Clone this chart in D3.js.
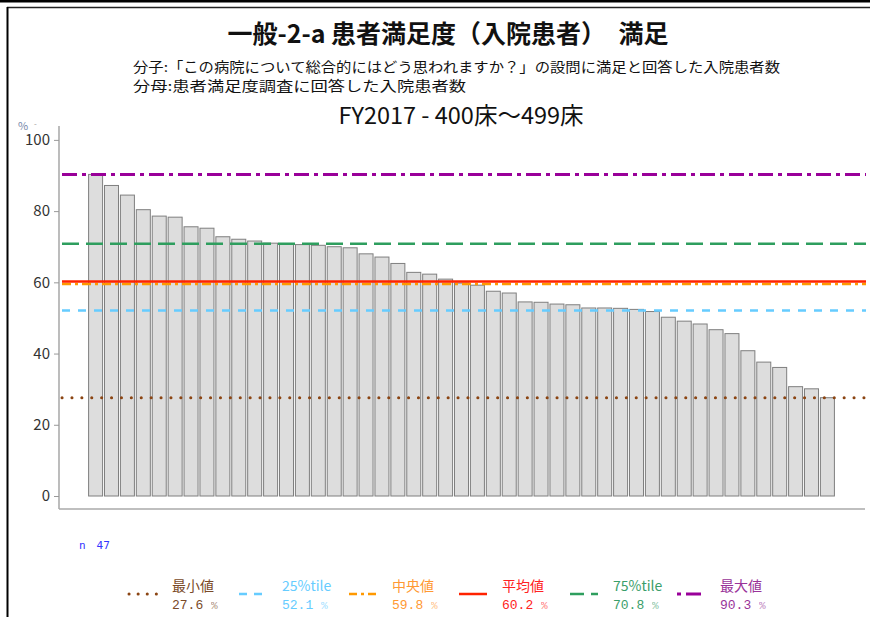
<!DOCTYPE html>
<html><head><meta charset="utf-8">
<script src="https://cdn.jsdelivr.net/npm/d3@7"></script>
<style>
html,body{margin:0;padding:0;background:#fff;}
svg{display:block;}
</style></head>
<body>
<svg id="chart" width="870" height="617"></svg>
<script>
const titleText = "一般-2-a 患者満足度（入院患者）　満足";
const subLines = ["分子:「この病院について総合的にはどう思われますか？」の設問に満足と回答した入院患者数", "分母:患者満足度調査に回答した入院患者数"];
const subTitle = "FY2017 - 400床～499床";
const values = [90.3, 87.2, 84.5, 80.4, 78.6, 78.3, 75.6, 75.2, 72.8, 72.1, 71.6, 71.0, 70.7, 70.6, 70.4, 70.0, 69.7, 68.0, 67.1, 65.3, 62.8, 62.3, 60.9, 59.8, 59.2, 57.5, 57.0, 54.5, 54.4, 53.9, 53.7, 52.8, 52.8, 52.7, 52.4, 51.8, 50.2, 49.1, 48.3, 46.7, 45.6, 40.8, 37.6, 36.1, 30.7, 30.1, 27.6];
const categories = values.map((v, i) => "H" + (i + 1));
const yTicks = [0, 20, 40, 60, 80, 100];
const statNames = ["最小値", "25%tile", "中央値", "平均値", "75%tile", "最大値"];
const statValues = [27.6, 52.1, 59.8, 60.2, 70.8, 90.3];
const statColors = ["#8B4513", "#66CCFF", "#FF9900", "#FF2200", "#2E9E5E", "#990099"];
const statTextColors = ["#7A4A28", "#66CCFF", "#FF9933", "#FF2222", "#3A9E6A", "#993399"];
const statDash = ["0.1,9.8", "8,8", "9,4,3,4", null, "17,7", "15,5,4,5"];
const statCap = ["round", "butt", "butt", "butt", "butt", "butt"];
const statWidth = [3, 2.5, 2.5, 2.5, 2.5, 3];
const nLabel = "n　47";

const svg = d3.select("#chart");
const font = "'Noto Sans CJK JP', 'Noto Sans', sans-serif";

// frame
svg.append("rect").attr("x", 0).attr("y", 0).attr("width", 870).attr("height", 2.5).attr("fill", "#000");
svg.append("line").attr("x1", 7).attr("x2", 870).attr("y1", 7.5).attr("y2", 7.5).attr("stroke", "#222").attr("stroke-width", 1.5);
svg.append("line").attr("x1", 7.5).attr("x2", 7.5).attr("y1", 7).attr("y2", 617).attr("stroke", "#000").attr("stroke-width", 2);

// titles
svg.append("text").attr("x", 448).attr("y", 43).attr("text-anchor", "middle")
  .attr("font-family", font).attr("font-weight", "bold").attr("font-size", 25).attr("fill", "#111").text(titleText);
const subW = [647, 333];
subLines.forEach((t, i) => {
  svg.append("text").attr("x", 133).attr("y", 71.5 + i * 19).attr("font-family", font)
    .attr("font-size", 13.5).attr("textLength", subW[i]).attr("lengthAdjust", "spacingAndGlyphs")
    .attr("fill", "#111").text(t);
});
svg.append("text").attr("x", 461).attr("y", 124).attr("text-anchor", "middle")
  .attr("font-family", font).attr("font-size", 23.5).attr("fill", "#111").text(subTitle);

// scales
const x = d3.scaleBand().domain(categories).range([59, 864]).paddingInner(0.12).paddingOuter(1.86);
const y = d3.scaleLinear().domain([-3.65, 103.9]).range([509, 126]);

// y axis
const yAxis = svg.append("g").attr("transform", "translate(59,0)")
  .call(d3.axisLeft(y).tickValues(yTicks).tickSize(5).tickPadding(4).tickFormat(d3.format("d")));
yAxis.select(".domain").attr("stroke", "#999").attr("stroke-width", 1.3).attr("d", "M0," + y.range()[1] + "V" + y.range()[0]);
yAxis.selectAll(".tick line").attr("stroke", "#999");
yAxis.selectAll(".tick text").attr("font-family", font).attr("font-size", 15).attr("fill", "#333");

// x axis line
svg.append("line").attr("x1", 59).attr("x2", 865).attr("y1", 509).attr("y2", 509).attr("stroke", "#aaa").attr("stroke-width", 1.5);

// % label
svg.append("text").attr("x", 18).attr("y", 130).attr("font-family", font).attr("font-size", 11).attr("fill", "#7788aa").text("%");
svg.append("text").attr("x", 34).attr("y", 127).attr("font-family", font).attr("font-size", 8).attr("fill", "#999").text("-");

// bars
svg.append("g").selectAll("rect").data(values).join("rect")
  .attr("x", (d, i) => x(categories[i]))
  .attr("y", d => y(d))
  .attr("width", x.bandwidth())
  .attr("height", d => y(0) - y(d))
  .attr("fill", "#DDDDDD").attr("stroke", "#7f7f7f").attr("stroke-width", 1);

// reference lines
const order = [0, 1, 2, 3, 4, 5];
svg.append("g").selectAll("line").data(order).join("line")
  .attr("x1", 62).attr("x2", 866)
  .attr("y1", i => y(statValues[i]) + (i === 2 ? 1 : 0))
  .attr("y2", i => y(statValues[i]) + (i === 2 ? 1 : 0))
  .attr("stroke", i => statColors[i])
  .attr("stroke-width", i => statWidth[i])
  .attr("stroke-linecap", i => statCap[i])
  .attr("stroke-dasharray", i => statDash[i]);

// n label
svg.append("text").attr("x", 79).attr("y", 549).attr("font-family", "'DejaVu Sans Mono', monospace")
  .attr("font-size", 11).attr("fill", "#3333FF").text(nLabel);

// legend
const legend = svg.append("g");
const keyX = [127, 237, 347, 457, 568, 675];
const keyDash = ["0.1,9", "8,7", "8,4,3,4", null, "14,7", "4,5,15,5"];
statNames.forEach((name, i) => {
  const g = legend.append("g").attr("transform", "translate(" + keyX[i] + ",0)");
  g.append("line").attr("x1", 2).attr("x2", 30).attr("y1", 594).attr("y2", 594)
    .attr("stroke", statColors[i]).attr("stroke-width", statWidth[i])
    .attr("stroke-linecap", statCap[i]).attr("stroke-dasharray", keyDash[i]);
  g.append("text").attr("x", 45).attr("y", 591).attr("font-family", font).attr("font-size", 14)
    .attr("fill", statTextColors[i]).text(name);
  const t = g.append("text").attr("x", 45).attr("y", 609).attr("font-family", "'Liberation Mono', monospace").attr("font-size", 13)
    .attr("fill", statTextColors[i]);
  t.append("tspan").text(statValues[i].toFixed(1) + " ");
  t.append("tspan").attr("opacity", 0.6).attr("font-size", 11).text("%");
});
</script>
</body></html>
